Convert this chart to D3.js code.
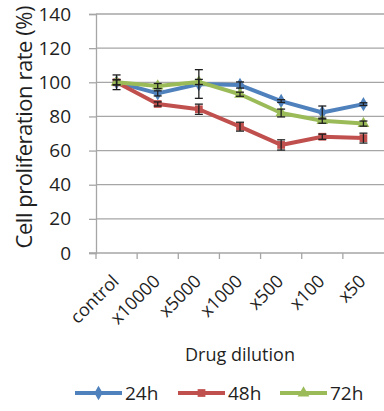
<!DOCTYPE html>
<html><head><meta charset="utf-8">
<script src="https://cdn.jsdelivr.net/npm/d3@7"></script>
<style>body{margin:0;background:#fff}svg{display:block;font-family:"Open Sans",sans-serif}</style>
</head><body>
<svg id="chart" width="384" height="411"></svg>
<script>
const categories = ["control", "x10000", "x5000", "x1000", "x500", "x100", "x50"];
const yTicks = [0, 20, 40, 60, 80, 100, 120, 140];
const seriesNames = ["24h", "48h", "72h"];
const values24 = [100, 93.5, 99, 98.4, 89, 82.3, 87.2];
const values48 = [100, 87.3, 84.2, 74, 63.3, 68.1, 67.3];
const values72 = [100, 97.8, 100.2, 93, 82, 77.5, 75.8];
const err24 = [4.3, 1.5, 8.4, 1.8, 0.8, 3.8, 0.8];
const err48 = [1.5, 1.2, 3, 2.6, 3, 1.5, 2.9];
const err72 = [1.5, 1.5, 1.5, 1.2, 2.3, 1.5, 1.5];
const colors = ["#4F81BD", "#C0504D", "#9BBB59"];

const series = [
  {name: seriesNames[0], values: values24, err: err24, color: colors[0], marker: d3.symbolDiamond},
  {name: seriesNames[1], values: values48, err: err48, color: colors[1], marker: d3.symbolSquare},
  {name: seriesNames[2], values: values72, err: err72, color: colors[2], marker: d3.symbolTriangle}
];

const svg = d3.select("#chart");
const m = {left: 96, right: 384, top: 14, bottom: 253};

const x = d3.scaleBand().domain(categories).range([m.left, m.right]);
const y = d3.scaleLinear().domain([0, 140]).range([m.bottom, m.top]);
const grid = "#a6a6a6";
const ink = "#1f1f1f";

// horizontal gridlines
svg.append("g").selectAll("line").data(yTicks.filter(t => t > 0)).join("line")
  .attr("x1", m.left).attr("x2", m.right)
  .attr("y1", d => y(d)).attr("y2", d => y(d))
  .attr("stroke", grid).attr("stroke-width", 1.3);

// y axis
const yAxis = svg.append("g").attr("transform", `translate(${m.left},0)`)
  .call(d3.axisLeft(y).tickValues(yTicks).tickSize(7).tickPadding(18));
yAxis.select(".domain").attr("stroke", grid).attr("stroke-width", 1.3);
yAxis.selectAll(".tick line").attr("stroke", grid).attr("stroke-width", 1.3);
yAxis.selectAll("text").attr("font-size", 19).attr("fill", ink)
  .attr("font-family", "Open Sans");

// x axis with ticks at category boundaries
const xAxis = svg.append("g").attr("transform", `translate(0,${m.bottom})`);
xAxis.append("line").attr("x1", m.left - 7).attr("x2", m.right)
  .attr("stroke", grid).attr("stroke-width", 1.3);
const bounds = categories.map(c => x(c));
xAxis.selectAll("line.tk").data(bounds).join("line").attr("class", "tk")
  .attr("x1", d => d).attr("x2", d => d).attr("y1", 0).attr("y2", 6)
  .attr("stroke", grid).attr("stroke-width", 1.3);
xAxis.selectAll("text").data(categories).join("text")
  .attr("transform", d => `translate(${x(d) + x.bandwidth() / 2 - 1},${25}) rotate(-45)`)
  .attr("text-anchor", "end").attr("dy", "0.35em")
  .attr("font-size", 18).attr("fill", ink).text(d => d);

// axis titles
svg.append("text").attr("transform", `translate(32,127) rotate(-90)`)
  .attr("text-anchor", "middle").attr("font-size", 22).attr("fill", ink)
  .attr("textLength", 243).attr("lengthAdjust", "spacing")
  .text("Cell proliferation rate (%)");
svg.append("text").attr("x", 240).attr("y", 361).attr("text-anchor", "middle")
  .attr("font-size", 18).attr("fill", ink).text("Drug dilution");

const cx = c => x(c) + x.bandwidth() / 2;
const line = d3.line().x((d, i) => cx(categories[i])).y(d => y(d));

series.forEach(s => {
  const g = svg.append("g");
  g.append("path").datum(s.values).attr("d", line)
    .attr("fill", "none").attr("stroke", s.color).attr("stroke-width", 4)
    .attr("stroke-linejoin", "round");
  g.selectAll("path.mk").data(s.values).join("path").attr("class", "mk")
    .attr("transform", (d, i) => `translate(${cx(categories[i])},${y(d)})`)
    .attr("d", d3.symbol().type(s.marker).size(60)).attr("fill", s.color);
});

// error bars
series.forEach(s => {
  const g = svg.append("g").attr("stroke", ink).attr("stroke-width", 1.3);
  s.values.forEach((v, i) => {
    const px = cx(categories[i]);
    const y1 = y(v + s.err[i]), y2 = y(v - s.err[i]);
    g.append("line").attr("x1", px).attr("x2", px).attr("y1", y1).attr("y2", y2);
    g.append("line").attr("x1", px - 4).attr("x2", px + 4).attr("y1", y1).attr("y2", y1);
    g.append("line").attr("x1", px - 4).attr("x2", px + 4).attr("y1", y2).attr("y2", y2);
  });
});

// legend
const legX = [75, 178, 280];
const leg = svg.append("g").attr("transform", "translate(0,393)");
series.forEach((s, i) => {
  const g = leg.append("g").attr("transform", `translate(${legX[i]},0)`);
  g.append("line").attr("x1", 0).attr("x2", 47).attr("stroke", s.color).attr("stroke-width", 4);
  g.append("path").attr("transform", "translate(23.5,0)")
    .attr("d", d3.symbol().type(s.marker).size(60)).attr("fill", s.color);
  g.append("text").attr("x", 50).attr("dy", "0.36em").attr("font-size", 19)
    .attr("fill", ink).text(s.name);
});
</script>
</body></html>
